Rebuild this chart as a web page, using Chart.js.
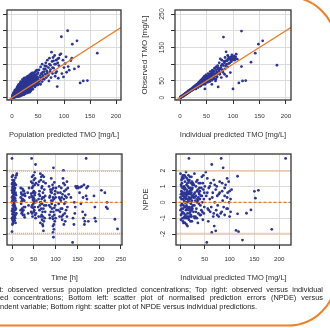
<!DOCTYPE html>
<html>
<head>
<meta charset="utf-8">
<script src="https://cdn.jsdelivr.net/npm/chart.js@4.4.1/dist/chart.umd.min.js"></script>
<style>
  html, body { margin: 0; padding: 0; background: #fff; overflow: hidden; }
  #page { position: absolute; left: 0; top: 0; width: 330px; height: 328px; overflow: hidden; font-family: "Liberation Sans", Arial, sans-serif; }
  canvas { position: absolute; }
  #frame { position: absolute; left: 0; top: 0; }
  #caption { position: absolute; top: 286px; left: 0; width: 330px; font-size: 7.36px; line-height: 8.3px; color: #222; will-change: transform; }
  #caption div { position: relative; }
  #caption .just { text-align: justify; text-align-last: justify; }
</style>
</head>
<body>
<div id="page">
<svg id="frame" width="330" height="328">
  <path d="M -5 325.5 H 288 A 48 48 0 0 0 336 277.5 M 288 -3.1 A 48 48 0 0 1 336 44.9" fill="none" stroke="#f08124" stroke-width="2"/>
</svg>
<canvas id="tl"></canvas>
<canvas id="tr"></canvas>
<canvas id="bl"></canvas>
<canvas id="br"></canvas>
<div id="caption">
  <div class="just" style="left:-24.5px;width:347.5px">Top left: observed versus population predicted concentrations; Top right: observed versus individual</div>
  <div class="just" style="left:-22px;width:345px">predicted concentrations; Bottom left: scatter plot of normalised prediction errors (NPDE) versus</div>
  <div style="left:-22px;width:345px">independent variable; Bottom right: scatter plot of NPDE versus individual predictions.</div>
</div>
</div>
<script>
// Tick values
const concTicks = [0, 50, 100, 150, 200];
const obsTicks = [0, 50, 100, 150, 200, 250];
const obsTickLabels = ['0', '50', '', '150', '', '250'];
const timeTicks = [0, 50, 100, 150, 200, 250];
const npdeTicks = [-2, -1, 0, 1, 2];
const npdeTickLabels = ['-2', '-1', '0', '1', '2'];
const npdeLimits = [-1.96, 0, 1.96];

// Top left: population predicted vs observed [mg/L]
const popPoints = [
  [0.5,1],[1,3],[1.5,0.5],[2,5],[2,2],[3,1],[3,7],[3.5,4],[4,9],[4,2],[5,6],[5,12],[5.5,3],[6,15],[6,8],[7,4],[7,11],[7.5,18],[8,6],[8,13],
  [9,9],[9,22],[9.5,3],[10,15],[10,7],[10.5,26],[11,11],[11,19],[12,5],[12,14],[12.5,30],[13,9],[13,22],[14,17],[14,34],[14.5,6],[15,12],[15,25],
  [2,8],[3,12],[4,2],[5,14],[6,18],[7,10],[8,3],[9,16],[10,22],[11,5],[12,26],[13,19],[14,30],[15,8],
  [16,20],[16,38],[16.5,9],[17,15],[17,29],[18,23],[18,42],[18.5,11],[19,18],[19,33],[20,26],[20,47],[20.5,13],[21,21],[21,37],[22,30],[22,52],
  [22.5,16],[23,25],[23,41],[24,34],[24,19],[25,45],[25,28],[25.5,56],[26,38],[26,22],[27,31],[27,49],[28,42],[28,17],[29,35],[29,60],[30,26],[30,46],
  [31,39],[31,55],[32,30],[32,50],[33,44],[33,64],[34,23],[34,36],[35,52],[35,58],[36,41],[36,70],[37,33],[37,48],[38,56],[38,62],[39,28],[39,45],
  [40,52],[40,74],[41,38],[42,60],[42,47],[43,55],[44,66],[44,32],[45,50],[46,58],[46,80],[47,42],[48,63],[48,54],[49,71],[50,45],
  [51,60],[52,83],[53,52],[54,66],[55,40],[55,92],[56,72],[57,58],[58,48],[58,100],[59,76],[60,64],[61,86],[62,55],[63,95],[64,70],[65,104],
  [66,60],[67,80],[68,112],[69,66],[70,90],[71,50],[72,118],[73,78],[74,97],[75,60],
  [76,136],[77,108],[78,72],[79,120],[80,88],[82,126],[83,64],[84,100],[85,112],[86,78],[87,33],[88,116],[89,58],[90,96],[92,128],[94,131],
  [95,182],[96,72],[98,112],[99,62],[100,90],[102,102],[104,122],[105,76],[107,200],[108,93],[110,82],[113,111],[115,118],[116,160],[120,86],
  [125,170],[128,93],[131,44],[137,50],[145,51],[164,133],
  [1,6],[2,10],[3,15],[4,13],[5,20],[6,23],[7,16],[8,21],[9,28],[10,32],[11,27],[12,36],[13,40],[14,25],[15,31],[16,44],[17,48],[18,33],[19,45],
  [20,54],[21,29],[22,43],[23,58],[24,48],[25,36],[26,60],[27,40],[28,53],[29,44],[30,64],[31,47],[32,62],[33,54],[34,68],[35,46],[36,62],[37,56],
  [38,73],[39,66],[40,60],[41,48],[42,70],[43,64],[44,76],[45,58],[46,69],[47,52],[48,82],[49,55],[50,75],
  [1,0.2],[2,0.8],[3,2.5],[4,4],[5,1],[6,3],[7,2],[8,8],[9,5],[10,3],[11,14],[12,8],[13,4],[14,9],[15,4],[16,6],[17,11],[18,7],[19,10],[20,8],
  [21,15],[22,11],[23,9],[24,13],[25,17],[26,12],[27,21],[28,24],[29,19],[30,14],[31,22],[32,18],[33,27],[34,16],[35,29],[36,20],[37,24],[38,38],
  [39,34],[40,25],[42,36],[44,42],[46,36],[48,46],[50,38],[52,50],[54,42],[56,60],[58,70],[60,56],[62,78],[64,86],[66,94],[68,74],[70,68],
  [72,100],[74,84],[78,90],[80,110],[82,100],[84,74],[88,104],[90,118]
];

// Top right: individual predicted vs observed [mg/L]
const indPoints = [
  [0.5,1],[1,2],[1.5,0.5],[2,3],[2.5,1.5],[3,4],[3,2],[4,5],[4,3],[5,6],[5,4],[6,7],[6,5],[7,9],[7,6],[8,10],[8,7],[9,11],[9,8],[10,13],[10,9],
  [11,12],[11,10],[12,15],[12,11],[13,14],[13,12],[14,17],[14,13],[15,16],[15,19],[16,15],[16,20],[17,18],[17,22],[18,17],[18,21],[19,23],[19,19],
  [20,25],[20,21],[21,24],[22,27],[22,22],[23,26],[24,30],[24,25],[25,28],[26,33],[26,27],[27,31],[28,35],[28,29],[29,33],[30,38],[30,31],
  [31,35],[32,40],[32,34],[33,37],[34,43],[34,36],[35,39],[36,46],[36,41],[37,44],[38,50],[38,42],[39,47],[40,53],[40,45],[42,50],[42,56],
  [43,47],[44,60],[45,52],[46,64],[47,40],[47,26],[48,57],[49,68],[50,55],[51,48],[52,62],[53,72],[54,58],[55,66],[56,50],[57,78],[58,62],
  [59,70],[60,40],[61,82],[62,66],[63,74],[64,56],[65,88],[66,72],[67,50],[68,92],[69,78],[70,62],[71,96],[72,32],[72,85],[74,104],[75,70],
  [76,116],[77,90],[78,60],[79,112],[80,100],[81,76],[82,181],[83,108],[84,70],[85,120],[86,95],[87,137],[88,64],[89,110],[90,126],[92,102],
  [94,116],[95,75],[96,122],[97,108],[98,128],[100,26],[100,114],[102,124],[104,118],[106,130],[108,115],[111,44],[116,199],[116,93],[118,50],
  [124,51],[134,106],[142,133],[148,160],[156,170],[183,97],
  [1,1],[2,2.5],[3,3],[4,4.5],[5,5],[6,6],[7,7.5],[8,8.5],[9,9.5],[10,11],[11,13],[12,13],[13,16],[14,15],[15,17],[16,18],[17,20],[18,19],[19,21],
  [20,23],[21,20],[22,25],[23,23],[24,27],[25,24],[26,30],[27,28],[28,32],[29,30],[30,35],[31,32],[32,37],[33,34],[34,39],[35,44],[36,38],[37,40],
  [38,46],[39,42],[40,49],[41,44],[42,46],[43,52],[44,48],[45,55],[46,50],[47,58],[48,50],[49,54],[50,62],[51,58],[52,54],[53,64],[54,62],[55,58],
  [56,70],[57,64],[58,56],[59,66],[60,76],[62,72],[64,80],[66,68],[68,84],[70,76],[72,90],[74,80],[76,86],[78,96],[80,84],[82,96],[84,104],
  [86,110],[88,100],[90,114],[92,120],[94,104],[96,112],[98,118],[100,120],[103,112],[105,122],[30,26],[34,30],[38,34],[40,36],[44,40],[48,44],
  [52,46],[56,48],[60,52],[64,60],[68,56],[45,44],[50,49],[55,53],[60,60],[65,64],[70,70],[75,74],[80,80],[85,86],[90,92]
];

// Bottom left: time [h] vs NPDE
const timePoints = [
  [0,2.76],[0,-1.85],[1,1.4],[2,1.0],[3,0.8],[1,0.6],[2,0.4],[4,0.2],[0,0.0],[3,-0.2],[1,-0.4],[2,-0.6],[4,-0.8],[0,-1.0],[3,-1.2],[5,1.1],
  [6,0.5],[5,-0.3],[6,-0.9],[7,0.9],[8,1.55],[7,-0.5],[8,0.1],[1,1.2],[2,-1.3],[4,0.65],[5,-0.05],[6,-1.15],[3,0.35],[0,0.75],[1,-0.75],
  [10,1.7],[11,1.8],[9,0.45],[10,-0.7],[2,0.15],[4,-0.45],[7,0.25],
  [0,1.6],[1,-1.4],[2,1.7],[3,-0.9],[4,1.3],[5,0.75],[6,-0.2],[7,-1.0],[8,0.6],[9,-0.4],[0,0.3],[1,0.1],[2,-0.2],[3,1.05],[4,-1.1],[5,-0.65],
  [6,1.2],[7,0.55],[8,-0.8],[9,1.1],[0,-0.55],[1,0.9],[2,0.7],[3,-0.6],[4,0.95],[5,0.3],[6,0.0],[7,-0.3],[8,-1.3],[0,1.15],[1,-1.1],[3,0.55],
  [5,1.4],[6,0.85],[2,-0.95],
  [20,0.9],[22,0.5],[24,0.2],[21,-0.1],[23,-0.4],[25,-0.8],[27,0.7],[28,0.1],[26,-0.5],[29,-0.95],[30,0.4],[22,-0.7],[24,0.85],[30,-0.3],
  [20,0.3],[21,0.6],[23,0.2],[24,-0.6],[25,0.45],[26,0.15],[27,-0.3],[28,-0.8],[29,0.55],[20,-0.5],[22,0.05],[26,0.75],
  [36,0.6],[38,-0.2],[37,-0.7],[40,0.3],[39,0.9],
  [45,2.76],[54,2.38],[44,1.3],[46,1.6],[48,1.0],[50,0.7],[52,1.9],[47,0.3],[49,-0.1],[51,-0.5],[53,-0.8],[45,-0.3],[47,-0.9],[55,1.2],
  [56,0.1],[50,-0.6],[46,0.9],[52,0.45],[48,-0.35],[54,-1.0],[44,0.55],
  [44,-0.6],[45,0.4],[46,-0.2],[47,1.2],[48,0.6],[49,0.3],[50,1.4],[51,0.2],[52,-0.3],[53,0.6],[54,0.0],[55,-0.7],[46,-0.7],[48,0.15],[50,0.05],
  [52,1.1],[49,1.7],[53,1.5],
  [60,1.1],[62,0.5],[64,-0.2],[61,-0.9],[65,1.8],[66,1.4],[68,0.9],[70,0.3],[72,-0.4],[69,-1.1],[71,-1.5],[72,-1.8],[67,1.6],[70,1.7],
  [74,0.8],[75,0.1],[76,-0.6],[73,-1.2],[63,-0.5],[66,0.0],[68,-0.8],[77,1.2],[78,-0.2],[71,0.6],[65,-1.3],
  [60,-0.3],[61,0.2],[62,1.3],[63,0.7],[64,0.4],[65,0.0],[66,-0.9],[67,-0.4],[68,0.2],[69,1.0],[70,-0.6],[71,-0.9],[72,1.3],[73,0.3],[74,-0.2],
  [75,-1.0],[76,0.4],[70,-1.4],[73,1.6],[69,-0.1],
  [85,1.0],[87,0.4],[88,-0.3],[86,-0.8],[90,1.5],[92,0.8],[93,0.1],[95,-0.6],[96,-1.4],[94,-1.9],[95,-2.2],[96,-1.7],[95,2.17],[97,1.25],
  [98,0.5],[99,-0.2],[100,-1.0],[91,-0.1],[89,0.65],[94,-1.05],[101,0.9],[102,-0.5],[93,1.1],[97,-0.35],
  [85,-0.2],[86,0.3],[87,-1.0],[88,0.8],[89,-0.6],[90,0.1],[91,0.6],[92,-0.4],[93,-0.9],[94,0.3],[95,0.9],[96,0.2],[97,-0.8],[98,-1.2],[99,0.7],
  [100,0.3],[94,-1.5],
  [105,0.6],[108,1.0],[110,0.2],[112,-0.4],[114,-0.9],[116,0.5],[118,2.0],[118,1.2],[120,-0.1],[121,-0.7],[122,-1.2],[119,-1.4],[124,0.8],
  [125,0.3],[126,1.3],[127,-0.3],[113,0.9],[110,-0.6],[107,-0.1],[123,0.0],[115,-1.1],[128,0.9],[130,0.5],
  [106,-0.5],[108,0.3],[109,-0.9],[111,0.6],[112,0.1],[114,0.3],[115,-0.4],[117,-0.8],[119,0.2],[120,0.7],[121,1.1],[122,0.4],[124,-0.5],
  [126,-0.9],[117,1.5],
  [135,0.3],[139,-2.53],[140,-1.0],[142,-1.4],[145,-0.3],[148,0.9],[150,1.0],[155,0.6],[160,1.0],[162,-0.6],[164,-1.0],[166,-1.4],[168,-0.8],
  [170,2.76],[170,0.4],[172,0.2],[165,1.1],[143,0.0],[158,-0.1],[175,-1.2],
  [146,1.0],[152,0.9],[157,0.95],[163,0.3],[167,-1.2],[171,0.9],[174,1.0],[144,-0.7],
  [188,0.4],[190,-0.3],[192,-1.2],[190,-1.0],[205,0.75],[213,0.6],[216,-0.3],[218,0.0],[219,-0.4],[236,-1.07],[242,-1.68]
];

// Bottom right: individual predicted [mg/L] vs NPDE
const ipredPoints = [
  [1,1.8],[2,0.5],[3,-0.4],[4,1.2],[5,-1.0],[6,0.2],[7,1.5],[8,-0.7],[9,0.8],[10,-1.3],[11,0.0],[12,1.9],[13,-0.2],[14,0.6],[15,-1.5],[16,1.0],
  [17,-0.5],[18,0.3],[19,1.4],[20,-0.9],[21,0.9],[22,-0.1],[23,1.6],[24,-1.2],[25,0.4],
  [1,-0.5],[2,1.1],[3,0.7],[4,-0.1],[5,0.4],[6,-1.2],[7,0.9],[8,0.1],[9,-0.3],[10,1.3],[11,-0.8],[12,0.5],[13,1.1],[14,-0.9],[15,0.2],[16,-0.3],
  [17,1.7],[18,-1.1],[19,0.0],[20,0.7],[21,-0.6],[22,1.2],[23,0.3],[24,0.8],[25,-0.4],
  [3,1.4],[5,0.9],[7,-0.2],[9,0.3],[11,1.6],[13,-1.4],[15,0.7],[17,0.1],[19,-0.7],[21,0.5],[23,-0.9],[2,-1.1],[4,0.6],[6,1.7],[8,1.0],[10,0.0],
  [12,-0.5],[14,1.5],[16,-1.0],[18,0.9],[20,0.2],[22,0.8],[24,-0.3],
  [1,0.3],[2,-0.2],[3,1.0],[4,-0.7],[5,1.6],[6,0.6],[7,-1.3],[8,0.5],[9,1.7],[10,0.6],[11,0.3],[12,-1.0],[13,0.8],[14,0.0],[15,1.2],[16,0.5],
  [17,-0.9],[18,-0.4],[19,0.6],[20,1.6],[21,-1.2],[22,0.0],[23,-0.5],[24,1.3],[25,0.9],
  [2,-0.8],[3,0.2],[4,1.5],[5,-0.6],[6,-0.4],[7,0.4],[8,-1.0],[9,-0.9],[10,0.9],[11,-0.3],[12,0.2],[13,0.4],[14,-0.4],[15,-0.7],[16,1.4],
  [17,0.6],[18,1.3],[19,-0.3],[20,-0.4],[21,0.2],[22,-0.8],[23,0.6],[24,0.1],[25,1.1],
  [26,1.2],[27,-0.6],[28,0.5],[29,1.8],[30,-1.0],[31,0.1],[32,1.0],[33,-0.4],[34,0.7],[35,1.4],[36,-1.3],[37,0.3],[38,-0.1],[39,0.9],[40,-0.8],
  [41,1.2],[42,0.4],[43,-0.5],[44,1.6],[45,0.0],[46,-1.1],[47,0.8],[48,0.2],[49,-0.3],[50,1.0],
  [27,0.3],[29,-0.2],[31,-0.9],[33,1.3],[35,0.2],[37,-0.7],[39,0.5],[41,-0.2],[43,0.9],[45,-0.6],[47,1.7],[49,0.6],[18,2.76],
  [26,-0.2],[28,-0.9],[30,0.6],[32,-0.6],[34,0.0],[36,0.8],[38,0.6],[40,0.2],[42,-0.8],[44,0.4],[46,1.2],[48,-0.7],[26,0.4],[28,1.1],[30,0.3],
  [32,0.4],[34,-1.0],[36,0.1],[38,1.2],[40,0.7],
  [52,1.9],[53,0.4],[54,-2.53],[55,1.5],[56,-0.4],[58,0.9],[60,0.2],[62,1.2],[64,2.38],[64,-1.9],[66,0.6],[67,-0.9],[68,1.4],[69,-1.5],[70,0.0],
  [72,-1.8],[72,0.8],[74,1.0],[76,-0.2],[78,0.5],[80,1.3],[82,-0.7],[83,2.76],[85,0.7],[87,2.17],[88,-0.3],[90,0.4],[92,1.1],[94,-0.4],[96,0.6],
  [98,1.3],[100,-0.9],[102,0.2],[104,0.8],[57,-1.2],[61,-0.6],[75,-0.8],[86,0.1],[95,1.5],[99,0.0],
  [55,0.6],[60,1.0],[65,0.3],[70,1.1],[75,0.4],[80,0.6],[85,1.2],[90,0.9],[95,0.3],[100,0.7],[58,-0.5],[63,-0.3],[68,-0.7],[73,-0.5],[78,-0.9],
  [84,-0.6],[90,-0.8],[96,-0.4],[102,-0.6],
  [113,-1.77],[116,1.64],[116,-0.73],[118,-1.85],[126,-2.38],[134,-0.69],[143,-0.48],[150,0.69],[152,0.26],[158,0.75],[185,-1.7],[213,2.76]
];

const navy = '#2b3593';
const orange = '#f07a22';
const paleOrange = '#f59a55';
const textColor = '#333';
const gridColor = '#dcdcdc';
const family = '"Liberation Sans", Arial, sans-serif';
const yAxisWidth = 35;
const padTop = 8;
const padRight = 8;

// Draw the box round the plotting region
const boxPlugin = {
  id: 'box',
  afterDraw(chart) {
    const a = chart.chartArea;
    const ctx = chart.ctx;
    ctx.save();
    ctx.strokeStyle = '#333';
    ctx.lineWidth = 1.3;
    ctx.strokeRect(a.left, a.top, a.right - a.left, a.bottom - a.top);
    ctx.restore();
  }
};

function toXY(pairs) {
  return pairs.map(p => ({ x: p[0], y: p[1] }));
}

function refLine(y, min, max, color, dash, width) {
  return {
    data: [{ x: min - 5, y: y }, { x: max + 5, y: y }],
    showLine: true, borderColor: color, borderWidth: width, borderDash: dash, pointRadius: 0
  };
}

function makeChart(id, p) {
  const canvas = document.getElementById(id);
  const w = p.box[2] - p.box[0] + yAxisWidth + padRight;
  const h = p.box[3] - p.box[1] + padTop + p.xHeight;
  canvas.width = w;
  canvas.height = h;
  canvas.style.left = (p.box[0] - yAxisWidth) + 'px';
  canvas.style.top = (p.box[1] - padTop) + 'px';

  return new Chart(canvas, {
    type: 'scatter',
    data: {
      datasets: p.lines.concat([{
        data: toXY(p.points), backgroundColor: navy, borderWidth: 0, pointRadius: 1.4
      }])
    },
    options: {
      responsive: false,
      animation: false,
      devicePixelRatio: 1,
      layout: { padding: { top: padTop, right: padRight, left: 0, bottom: 0 } },
      plugins: { legend: { display: false }, tooltip: { enabled: false } },
      scales: {
        x: {
          type: 'linear', min: p.xMin, max: p.xMax,
          afterBuildTicks: s => { s.ticks = p.xTicks.map(v => ({ value: v })); },
          afterFit: s => { s.height = p.xHeight; s.paddingLeft = 0; s.paddingRight = 0; },
          grid: { color: gridColor, tickColor: textColor, tickLength: 4 },
          border: { display: false },
          ticks: { color: textColor, font: { family, size: 6.2 }, padding: p.xPad, maxRotation: 0, autoSkip: false,
                   callback: v => String(v) },
          title: { display: true, text: p.xTitle, color: textColor, font: { family, size: 7.5 }, padding: 0 }
        },
        y: {
          type: 'linear', min: p.yMin, max: p.yMax,
          afterBuildTicks: s => { s.ticks = p.yTicks.map(v => ({ value: v })); },
          afterFit: s => { s.width = yAxisWidth; s.paddingTop = 0; s.paddingBottom = 0; },
          grid: { color: gridColor, tickColor: textColor, tickLength: 4 },
          border: { display: false },
          ticks: { color: textColor, font: { family, size: 6.8 }, padding: p.yPad, minRotation: 90, maxRotation: 90,
                   crossAlign: 'center', autoSkip: false, callback: (v, i) => p.yLabels[i] },
          title: { display: true, text: p.yTitle, color: textColor, font: { family, size: 8 }, padding: 0 }
        }
      }
    },
    plugins: [boxPlugin]
  });
}

const identity = (min, max) => ({
  data: [{ x: min - 20, y: min - 20 }, { x: max + 20, y: max + 20 }],
  showLine: true, borderColor: orange, borderWidth: 1.2, pointRadius: 0
});

const npdeLines = (min, max) => [
  refLine(npdeLimits[1], min, max, orange, [3, 2], 1.2),
  refLine(npdeLimits[0], min, max, paleOrange, [1, 1], 1.4),
  refLine(npdeLimits[2], min, max, paleOrange, [1, 1], 1.4)
];

makeChart('tl', {
  box: [7, 10, 121, 100], xHeight: 39, xPad: 8.4, yPad: 3.3,
  xMin: -9.6, xMax: 209.6, yMin: -7, yMax: 262,
  xTicks: concTicks, yTicks: obsTicks, yLabels: obsTickLabels,
  xTitle: 'Population predicted TMO [mg/L]', yTitle: 'Observed TMO [mg/L]',
  points: popPoints, lines: [identity(-9.6, 262)]
});

makeChart('tr', {
  box: [175, 10, 291, 100], xHeight: 39, xPad: 8.4, yPad: 3.3,
  xMin: -9.5, xMax: 209.5, yMin: -7, yMax: 262,
  xTicks: concTicks, yTicks: obsTicks, yLabels: obsTickLabels,
  xTitle: 'Individual predicted TMO [mg/L]', yTitle: 'Observed TMO [mg/L]',
  points: indPoints, lines: [identity(-9.5, 262)]
});

makeChart('bl', {
  box: [7, 154, 122, 245], xHeight: 37, xPad: 6.1, yPad: 6,
  xMin: -11.5, xMax: 252.3, yMin: -2.69, yMax: 3.04,
  xTicks: timeTicks, yTicks: npdeTicks, yLabels: npdeTickLabels,
  xTitle: 'Time [h]', yTitle: 'NPDE',
  points: timePoints, lines: npdeLines(-11.5, 252.3)
});

makeChart('br', {
  box: [176, 154, 291, 245], xHeight: 37, xPad: 6.1, yPad: 6,
  xMin: -8.1, xMax: 223.8, yMin: -2.69, yMax: 3.04,
  xTicks: concTicks, yTicks: npdeTicks, yLabels: npdeTickLabels,
  xTitle: 'Individual predicted TMO [mg/L]', yTitle: 'NPDE',
  points: ipredPoints, lines: npdeLines(-8.1, 223.8)
});
</script>
</body>
</html>
